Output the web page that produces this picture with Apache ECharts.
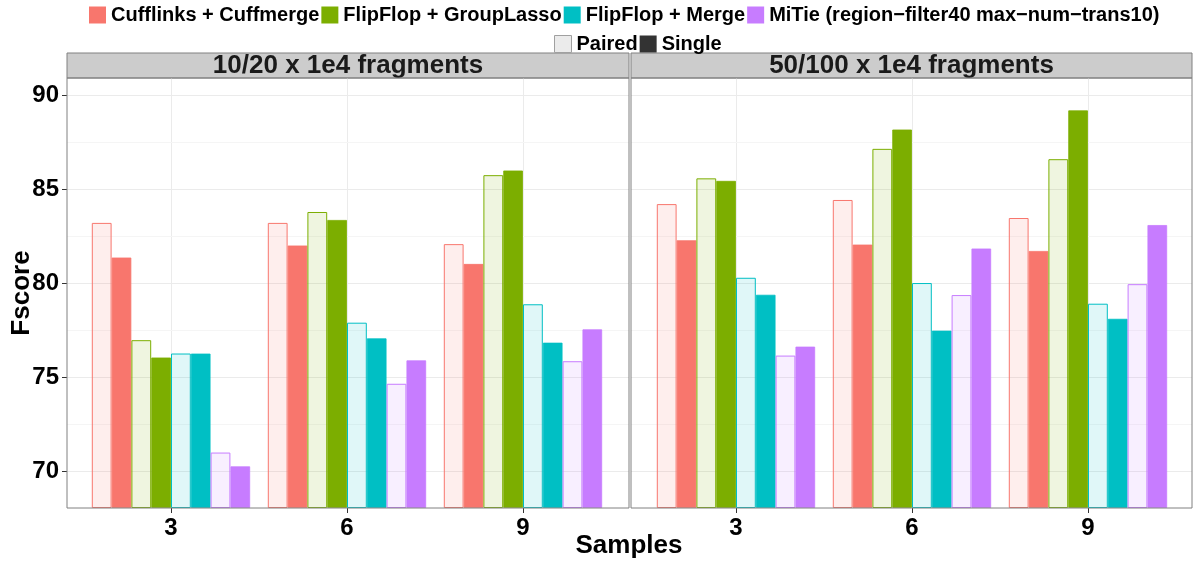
<!DOCTYPE html>
<html>
<head>
<meta charset="utf-8">
<script src="https://cdn.jsdelivr.net/npm/echarts@6/dist/echarts.min.js"></script>
<style>
  html, body { margin: 0; padding: 0; background: #ffffff; }
  #chart { width: 1193px; height: 562px; }
</style>
</head>
<body>
<div id="chart"></div>
<script>
// Categories and labels
const samples = ['3', '6', '9'];
const panelTitles = ['10/20 x 1e4 fragments', '50/100 x 1e4 fragments'];
const methods = [
  'Cufflinks + Cuffmerge',
  'FlipFlop + GroupLasso',
  'FlipFlop + Merge',
  'MiTie (region\u2212filter40 max\u2212num\u2212trans10)'
];
const readTypes = ['Paired', 'Single'];
const fscoreTicks = [70, 75, 80, 85, 90];
const fscoreMinorBreaks = [72.5, 77.5, 82.5, 87.5];
const fscoreRange = [68.06, 90.94];

// Fscore values, 10/20 x 1e4 fragments (samples 3, 6, 9)
const cufflinksPaired10 = [83.23, 83.23, 82.10];
const cufflinksSingle10 = [81.39, 82.03, 81.05];
const groupLassoPaired10 = [76.99, 83.81, 85.77];
const groupLassoSingle10 = [76.07, 83.39, 86.02];
const mergePaired10 = [76.28, 77.92, 78.90];
const mergeSingle10 = [76.28, 77.09, 76.86];
const mitiePaired10 = [71.01, 74.67, 75.87];
const mitieSingle10 = [70.28, 75.92, 77.57];

// Fscore values, 50/100 x 1e4 fragments (samples 3, 6, 9)
const cufflinksPaired50 = [84.23, 84.45, 83.49];
const cufflinksSingle50 = [82.31, 82.08, 81.74];
const groupLassoPaired50 = [85.60, 87.17, 86.62];
const groupLassoSingle50 = [85.47, 88.20, 89.22];
const mergePaired50 = [80.31, 80.03, 78.93];
const mergeSingle50 = [79.41, 77.50, 78.13];
const mitiePaired50 = [76.17, 79.39, 79.97];
const mitieSingle50 = [76.65, 81.87, 83.12];

const methodColors = ['#F8766D', '#7CAE00', '#00BFC4', '#C77CFF'];

const panelSeries = [
  [[cufflinksPaired10, cufflinksSingle10], [groupLassoPaired10, groupLassoSingle10],
   [mergePaired10, mergeSingle10], [mitiePaired10, mitieSingle10]],
  [[cufflinksPaired50, cufflinksSingle50], [groupLassoPaired50, groupLassoSingle50],
   [mergePaired50, mergeSingle50], [mitiePaired50, mitieSingle50]]
];

const FONT = '"Liberation Sans", Arial, Helvetica, sans-serif';

function fade(hex, a) {
  const r = parseInt(hex.slice(1, 3), 16), g = parseInt(hex.slice(3, 5), 16), b = parseInt(hex.slice(5, 7), 16);
  return 'rgba(' + r + ',' + g + ',' + b + ',' + a + ')';
}

// Panel geometry: outer grid = facet panel, inner grid = span between first and last sample
const panels = [
  { left: 67, width: 562, innerLeft: 171, innerWidth: 352 },
  { left: 631, width: 561, innerLeft: 736, innerWidth: 352 }
];
const TOP = 78, HEIGHT = 430;

const grid = [], xAxis = [], yAxis = [], series = [], graphic = [];

panels.forEach(function (p, pi) {
  const outer = grid.length;
  grid.push({ left: p.left, top: TOP, width: p.width, height: HEIGHT, show: true,
              borderColor: '#808080', borderWidth: 1, backgroundColor: 'transparent', z: 3 });
  grid.push({ left: p.innerLeft, top: TOP, width: p.innerWidth, height: HEIGHT, show: false });
  const inner = outer + 1;

  xAxis.push({ gridIndex: outer, type: 'value', min: 0, max: 1, show: false });
  xAxis.push({
    gridIndex: inner, type: 'category', data: samples, boundaryGap: false,
    axisLine: { show: false },
    axisTick: { show: true, length: 5, lineStyle: { color: '#333333', width: 1 } },
    axisLabel: { fontSize: 24, fontWeight: 'bold', color: '#000000', fontFamily: FONT, margin: 8 },
    splitLine: { show: true, lineStyle: { color: '#EBEBEB', width: 1 } }
  });

  yAxis.push({
    gridIndex: outer, type: 'value', min: fscoreRange[0], max: fscoreRange[1],
    axisLine: { show: false },
    axisTick: { show: pi === 0, length: 5, customValues: fscoreTicks, lineStyle: { color: '#333333' } },
    axisLabel: { show: pi === 0, customValues: fscoreTicks,
                 fontSize: 24, fontWeight: 'bold', color: '#000000', fontFamily: FONT, margin: 8 },
    splitLine: { show: true, lineStyle: { color: '#EBEBEB', width: 1 } }
  });
  yAxis.push({ gridIndex: inner, type: 'value', min: fscoreRange[0], max: fscoreRange[1],
               startValue: fscoreRange[0], show: false, splitLine: { show: false } });

  // minor horizontal grid lines, kept beneath the bars
  series.push({
    type: 'line', xAxisIndex: outer, yAxisIndex: outer, data: [], silent: true, z: 1,
    markLine: {
      z: 1, silent: true, symbol: ['none', 'none'], label: { show: false }, animation: false,
      lineStyle: { color: '#F5F5F5', width: 1, type: 'solid' },
      emphasis: { disabled: true },
      data: fscoreMinorBreaks.map(function (v) { return { yAxis: v }; })
    }
  });

  panelSeries[pi].forEach(function (pair, mi) {
    pair.forEach(function (vals, ri) {
      const c = methodColors[mi];
      series.push({
        type: 'bar', name: methods[mi], xAxisIndex: inner, yAxisIndex: inner,
        data: vals, barWidth: 19.8, barGap: '0%', clip: false, z: 2,
        itemStyle: ri === 0
          ? { color: fade(c, 0.12), borderColor: c, borderWidth: 1 }
          : { color: c, borderColor: fade(c, 0.8), borderWidth: 1 },
        emphasis: { disabled: true }
      });
    });
  });

  // facet strip
  graphic.push({ type: 'rect', shape: { x: p.left, y: 53, width: p.width, height: 25 },
                 style: { fill: '#CCCCCC', stroke: '#808080', lineWidth: 1 }, silent: true });
  graphic.push({ type: 'text', x: p.left + p.width / 2, y: 66,
                 style: { text: panelTitles[pi], font: 'bold 26px ' + FONT, fill: '#1A1A1A',
                          align: 'center', verticalAlign: 'middle' }, silent: true });
});

// legend entries for read type
series.push({ type: 'line', name: readTypes[0], xAxisIndex: 0, yAxisIndex: 0, data: [],
              itemStyle: { color: '#EBEBEB' } });
series.push({ type: 'line', name: readTypes[1], xAxisIndex: 0, yAxisIndex: 0, data: [],
              itemStyle: { color: '#333333' } });

// axis titles
graphic.push({ type: 'text', x: 22, y: 293, rotation: Math.PI / 2,
               style: { text: 'Fscore', font: 'bold 26px ' + FONT, fill: '#000000',
                        align: 'center', verticalAlign: 'middle' }, silent: true });
graphic.push({ type: 'text', x: 629, y: 546,
               style: { text: 'Samples', font: 'bold 26px ' + FONT, fill: '#000000',
                        align: 'center', verticalAlign: 'middle' }, silent: true });

const legendText = { fontSize: 20, fontWeight: 'bold', color: '#000000', fontFamily: FONT };

const option = {
  animation: false,
  backgroundColor: '#ffffff',
  grid: grid, xAxis: xAxis, yAxis: yAxis, series: series, graphic: graphic,
  legend: [
    {
      top: 0, left: 84, icon: 'rect', itemWidth: 17, itemHeight: 17, itemGap: 2,
      textStyle: legendText, selectedMode: false,
      data: methods.map(function (n, i) {
        return { name: n, itemStyle: { color: methodColors[i], borderWidth: 0 } };
      })
    },
    {
      top: 29, left: 549, icon: 'rect', itemWidth: 17, itemHeight: 17, itemGap: 2,
      textStyle: legendText, selectedMode: false,
      data: [
        { name: readTypes[0], itemStyle: { color: '#EBEBEB', borderColor: '#A0A0A0', borderWidth: 1 } },
        { name: readTypes[1], itemStyle: { color: '#333333', borderWidth: 0 } }
      ]
    }
  ]
};

const chart = echarts.init(document.getElementById('chart'), null, { renderer: 'canvas' });
chart.setOption(option);
</script>
</body>
</html>
